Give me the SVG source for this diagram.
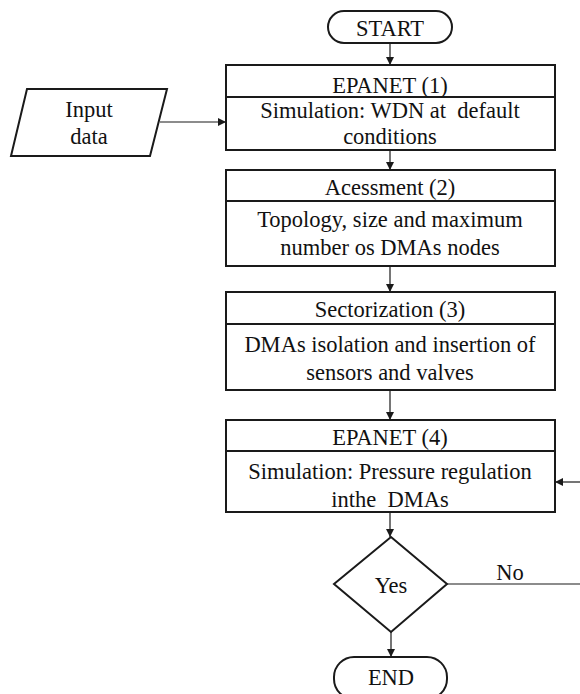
<svg xmlns="http://www.w3.org/2000/svg" width="580" height="694" viewBox="0 0 580 694">
<style>
  .shape { fill: #ffffff; stroke: #1a1a1a; stroke-width: 2; }
  .div { stroke: #1a1a1a; stroke-width: 1.8; fill: none; }
  .conn { stroke: #1a1a1a; stroke-width: 1.2; fill: none; }
  .t { font-family: "Liberation Serif", "DejaVu Serif", serif; font-size: 22.5px; fill: #111111; text-anchor: middle; }
</style>
<defs>
  <marker id="arrow" viewBox="0 0 10 10" refX="10" refY="5" markerWidth="8" markerHeight="8" markerUnits="userSpaceOnUse" orient="auto">
    <path d="M0,0 L10,5 L0,10 Z" fill="#1a1a1a"/>
  </marker>
</defs>
<rect width="580" height="694" fill="#ffffff"/>

<g id="connectors">
  <line class="conn" x1="390" y1="43" x2="390" y2="65" marker-end="url(#arrow)"/>
  <line class="conn" x1="160" y1="122" x2="226" y2="122" marker-end="url(#arrow)"/>
  <line class="conn" x1="390" y1="150" x2="390" y2="170" marker-end="url(#arrow)"/>
  <line class="conn" x1="390" y1="266" x2="390" y2="292" marker-end="url(#arrow)"/>
  <line class="conn" x1="390" y1="390" x2="390" y2="420" marker-end="url(#arrow)"/>
  <line class="conn" x1="390" y1="512" x2="390" y2="537" marker-end="url(#arrow)"/>
  <line class="conn" x1="391" y1="632" x2="391" y2="657" marker-end="url(#arrow)"/>
  <line class="conn" x1="447" y1="584" x2="580" y2="584"/>
  <line class="conn" x1="580" y1="482" x2="555" y2="482" marker-end="url(#arrow)"/>
  <text class="t" x="510" y="580">No</text>
</g>

<g id="start">
  <rect class="shape" x="328" y="11" width="124" height="32" rx="16" ry="16"/>
  <text class="t" x="390" y="36">START</text>
</g>

<g id="input">
  <polygon class="shape" points="27,89 167,89 150,156 11,156"/>
  <text class="t" x="89" y="117">Input</text>
  <text class="t" x="89" y="144">data</text>
</g>

<g id="epanet1">
  <rect class="shape" x="226" y="65" width="329" height="85"/>
  <line class="div" x1="226" y1="97" x2="555" y2="97"/>
  <text class="t" x="390" y="93">EPANET (1)</text>
  <text class="t" x="390" y="118" xml:space="preserve">Simulation: WDN at  default</text>
  <text class="t" x="390" y="144">conditions</text>
</g>

<g id="assessment">
  <rect class="shape" x="226" y="170" width="329" height="96"/>
  <line class="div" x1="226" y1="201" x2="555" y2="201"/>
  <text class="t" x="390" y="195">Acessment (2)</text>
  <text class="t" x="390" y="227">Topology, size and maximum</text>
  <text class="t" x="390" y="255">number os DMAs nodes</text>
</g>

<g id="sectorization">
  <rect class="shape" x="226" y="292" width="329" height="98"/>
  <line class="div" x1="226" y1="324" x2="555" y2="324"/>
  <text class="t" x="390" y="317">Sectorization (3)</text>
  <text class="t" x="390" y="352">DMAs isolation and insertion of</text>
  <text class="t" x="390" y="380">sensors and valves</text>
</g>

<g id="epanet4">
  <rect class="shape" x="226" y="420" width="329" height="92"/>
  <line class="div" x1="226" y1="451" x2="555" y2="451"/>
  <text class="t" x="390" y="445">EPANET (4)</text>
  <text class="t" x="390" y="479">Simulation: Pressure regulation</text>
  <text class="t" x="390" y="507" xml:space="preserve">inthe  DMAs</text>
</g>

<g id="decision">
  <polygon class="shape" points="391,537 447,584 391,632 334,584"/>
  <text class="t" x="391" y="593">Yes</text>
</g>

<g id="end">
  <rect class="shape" x="334" y="657" width="113" height="42" rx="20" ry="20"/>
  <text class="t" x="391" y="685">END</text>
</g>
</svg>
